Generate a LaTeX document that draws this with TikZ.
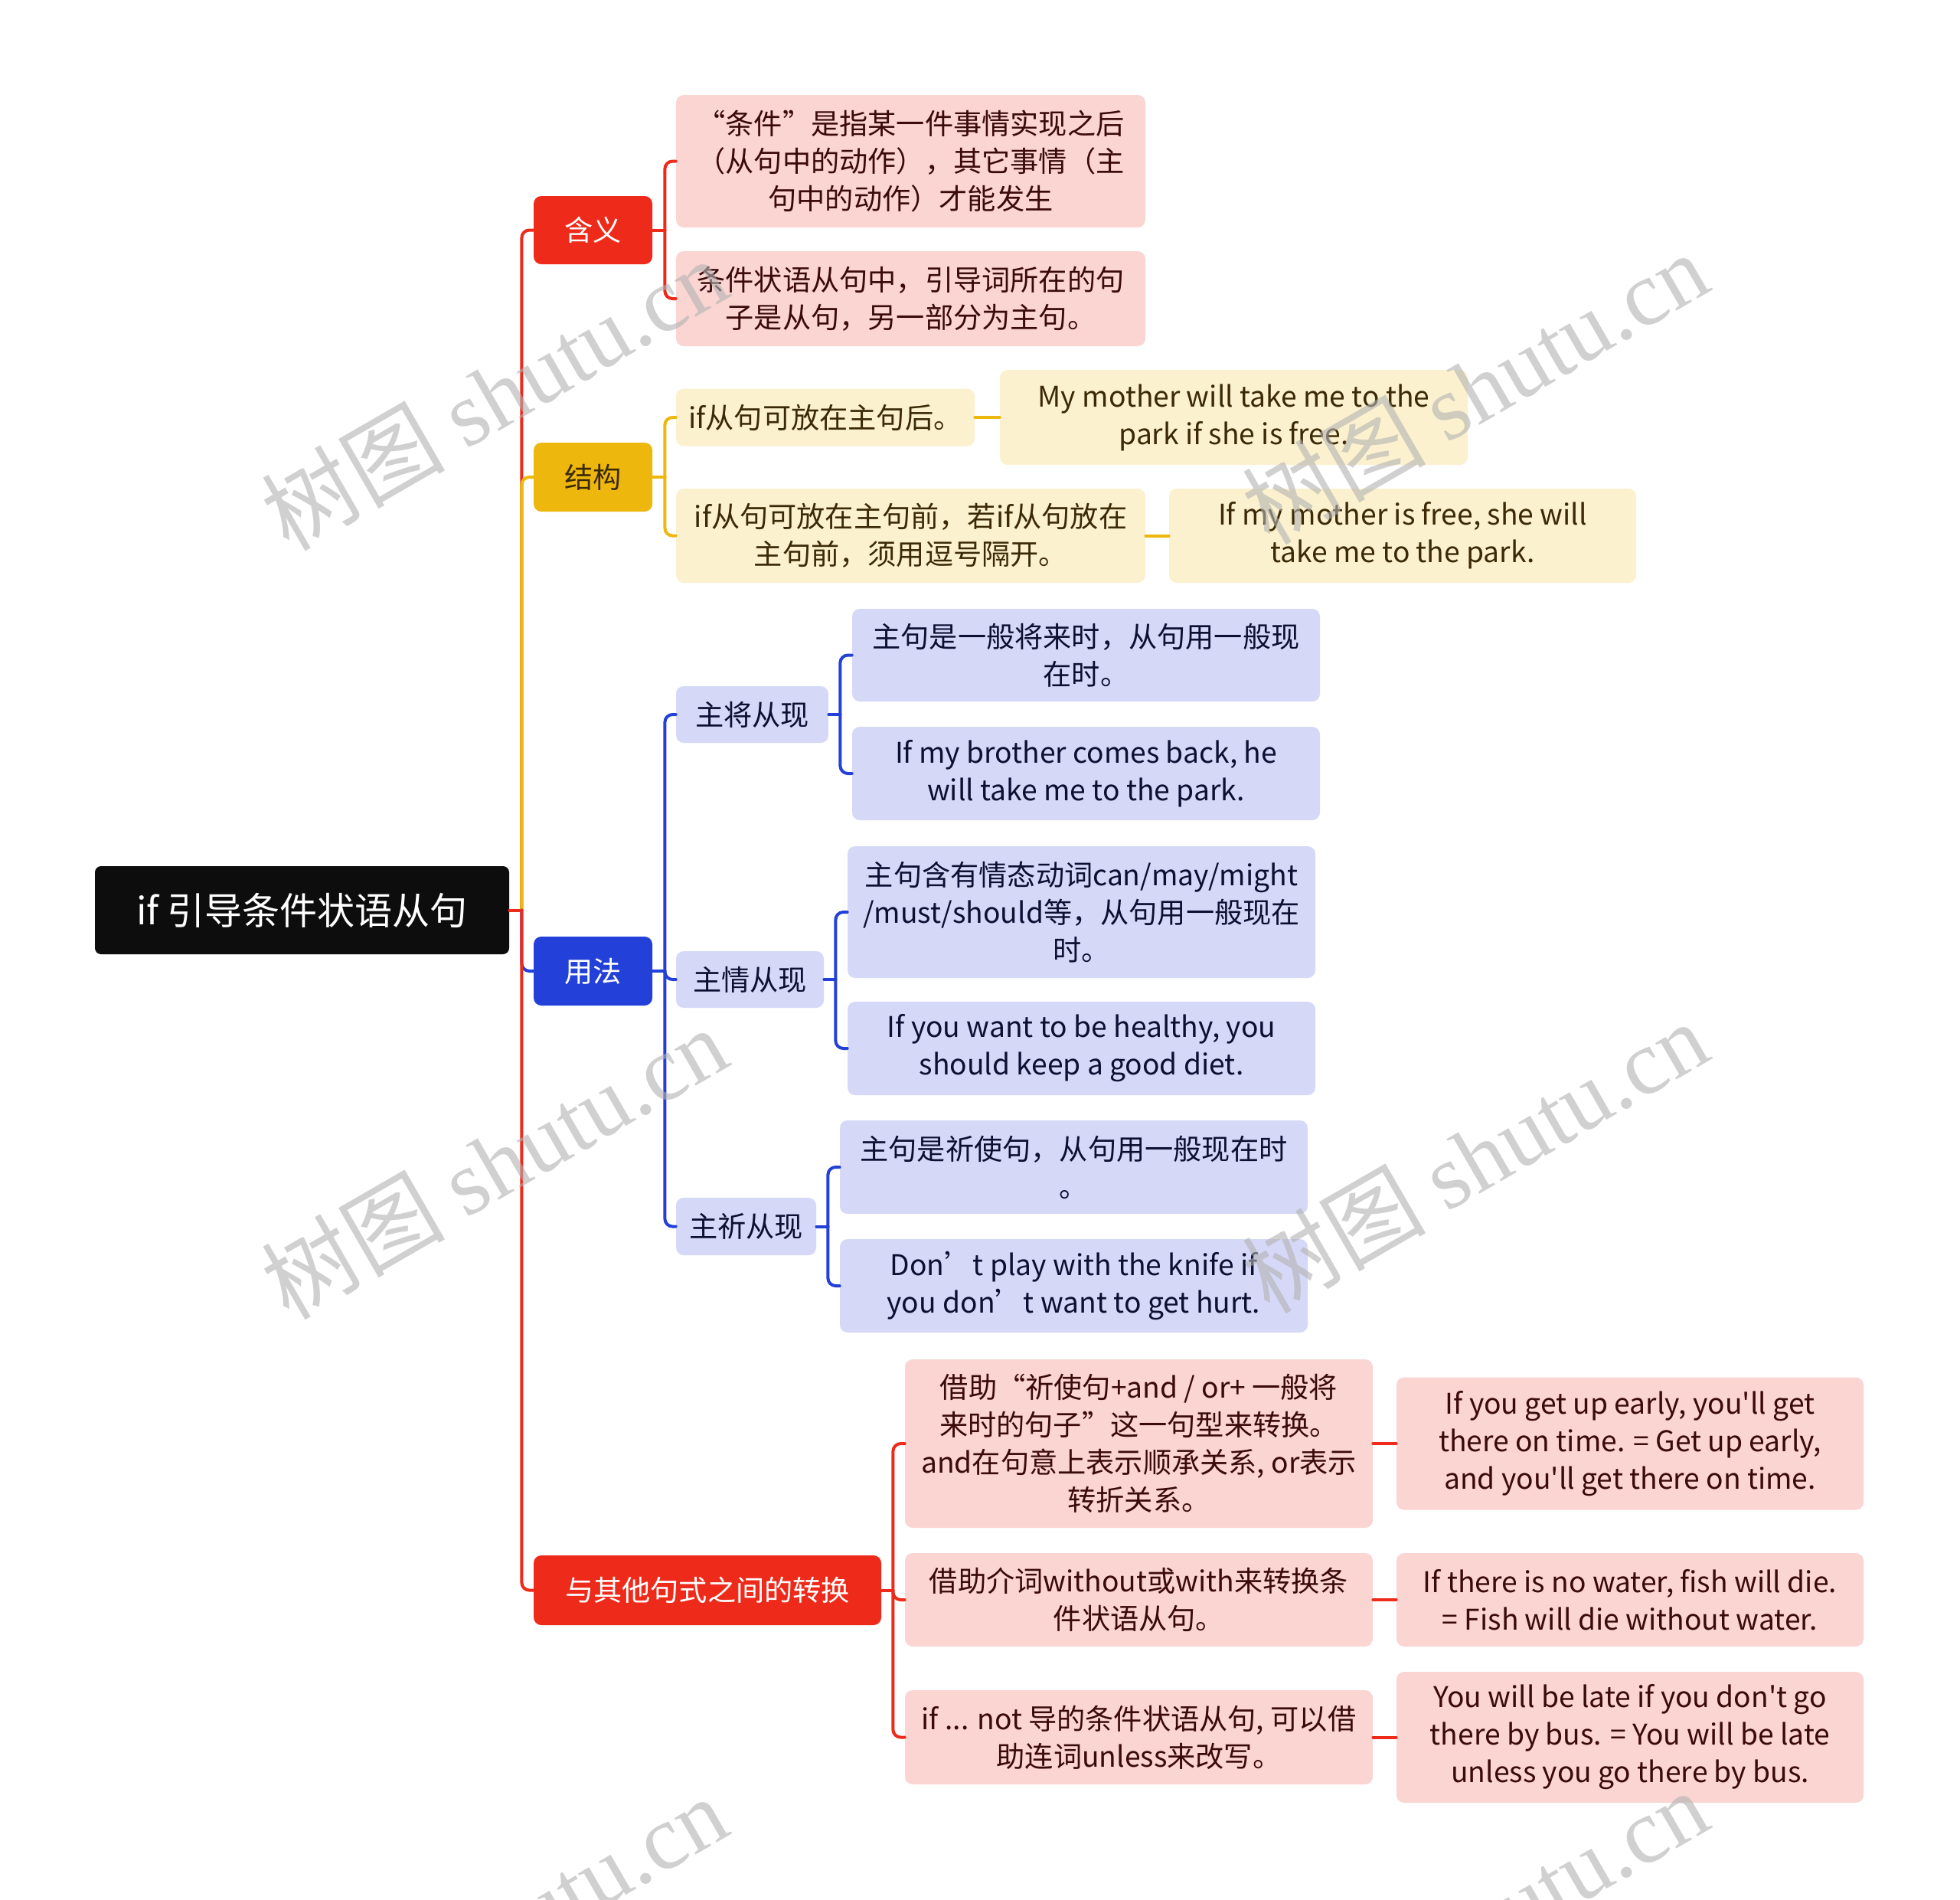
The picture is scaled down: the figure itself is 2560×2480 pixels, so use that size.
\documentclass[tikz,border=0pt]{standalone}
\usepackage{fontspec}
\setmainfont{Noto Sans CJK SC}[Ligatures=TeXOff]
\newfontfamily\wmserif{Liberation Serif}

\definecolor{mapBlack}{RGB}{13,13,13}
\definecolor{mapRed}{RGB}{238,42,26}
\definecolor{mapYellow}{RGB}{237,183,14}
\definecolor{mapBlue}{RGB}{35,64,216}
\definecolor{lightRed}{RGB}{250,213,210}
\definecolor{lightYellow}{RGB}{252,241,207}
\definecolor{lightBlue}{RGB}{213,217,247}
\definecolor{txtRed}{RGB}{59,10,10}
\definecolor{txtYellow}{RGB}{59,42,5}
\definecolor{txtBlue}{RGB}{13,16,51}

\tikzset{
  mapnode/.style={rounded corners=5pt, inner sep=0pt, align=center,
    font=\fontsize{18.6}{24.5}\selectfont},
  sz/.style 2 args={minimum width=#1*0.5pt, minimum height=#2*0.5pt},
  rootnode/.style={mapnode, fill=mapBlack, text=white, rounded corners=4pt,
    font=\fontsize{24.5}{30}\selectfont},
  topicRed/.style={mapnode, fill=mapRed, text=white},
  topicYellow/.style={mapnode, fill=mapYellow, text=txtYellow},
  topicBlue/.style={mapnode, fill=mapBlue, text=white},
  leafRed/.style={mapnode, fill=lightRed, text=txtRed},
  leafYellow/.style={mapnode, fill=lightYellow, text=txtYellow},
  leafBlue/.style={mapnode, fill=lightBlue, text=txtBlue},
  maplink/.style={line width=2pt, line cap=round},
  mapfork/.style={maplink, rounded corners=5pt},
  watermark/.style={rotate=30, text=gray!60, text opacity=0.6,
    font=\fontsize{60}{60}\selectfont},
}

\begin{document}
\begin{tikzpicture}[x=0.5pt, y=-0.5pt]
% sheet is 2560 x 2480 px, one unit = one px
\useasboundingbox (0,0) rectangle (2560,2480);
\fill[white] (0,0) rectangle (2560,2480);

% Root and main topics
\node[rootnode, sz={541}{115}] (root) at (394.5,1188.5) {if 引导条件状语从句};
\node[topicRed, sz={155}{89}] (hanyi) at (774.5,300.5) {含义};
\node[topicYellow, sz={155}{90}] (jiegou) at (774.5,623) {结构};
\node[topicBlue, sz={155}{90}] (yongfa) at (774.5,1268) {用法};
\node[topicRed, sz={454}{91}] (zhuanhuan) at (924,2076.5) {与其他句式之间的转换};

% 含义
\node[leafRed, sz={613}{173}] (hanyiA) at (1189.5,210.5)
  {“条件”是指某一件事情实现之后\\（从句中的动作），其它事情（主\\句中的动作）才能发生};
\node[leafRed, sz={613}{124}] (hanyiB) at (1189.5,390)
  {条件状语从句中，引导词所在的句\\子是从句，另一部分为主句。};

% 结构
\node[leafYellow, sz={390}{75}] (jiegouA) at (1078,545) {if从句可放在主句后。};
\node[leafYellow, sz={611}{124}] (jiegouAx) at (1611.5,545)
  {My mother will take me to the\\park if she is free.};
\node[leafYellow, sz={613}{123}] (jiegouB) at (1189.5,699.5)
  {if从句可放在主句前，若if从句放在\\主句前，须用逗号隔开。};
\node[leafYellow, sz={610}{123}] (jiegouBx) at (1832,699.5)
  {If my mother is free, she will\\take me to the park.};

% 用法
\node[leafBlue, sz={199}{74}] (zhujiang) at (982.5,933) {主将从现};
\node[leafBlue, sz={611}{121}] (zhujiangA) at (1418.5,855.5)
  {主句是一般将来时，从句用一般现\\在时。};
\node[leafBlue, sz={611}{122}] (zhujiangB) at (1418.5,1010)
  {If my brother comes back, he\\will take me to the park.};
\node[leafBlue, sz={193}{74}] (zhuqing) at (979.5,1279) {主情从现};
\node[leafBlue, sz={611}{172}] (zhuqingA) at (1412.5,1191)
  {主句含有情态动词can/may/might\\/must/should等，从句用一般现在\\时。};
\node[leafBlue, sz={611}{122}] (zhuqingB) at (1412.5,1369)
  {If you want to be healthy, you\\should keep a good diet.};
\node[leafBlue, sz={183}{75}] (zhuqi) at (974.5,1601.5) {主祈从现};
\node[leafBlue, sz={611}{122}] (zhuqiA) at (1402.5,1524)
  {主句是祈使句，从句用一般现在时\\。};
\node[leafBlue, sz={611}{122}] (zhuqiB) at (1402.5,1679)
  {Don’t play with the knife if\\you don’t want to get hurt.};

% 转换
\node[leafRed, sz={611}{220}] (zhuanA) at (1487.5,1885)
  {借助“祈使句+and / or+ 一般将\\来时的句子”这一句型来转换。\\and在句意上表示顺承关系, or表示\\转折关系。};
\node[leafRed, sz={610}{173}] (zhuanAx) at (2129,1885)
  {If you get up early, you'll get\\there on time. = Get up early,\\and you'll get there on time.};
\node[leafRed, sz={611}{122}] (zhuanB) at (1487.5,2089)
  {借助介词without或with来转换条\\件状语从句。};
\node[leafRed, sz={610}{122}] (zhuanBx) at (2129,2089)
  {If there is no water, fish will die.\\= Fish will die without water.};
\node[leafRed, sz={611}{123}] (zhuanC) at (1487.5,2268.5)
  {if ... not 导的条件状语从句, 可以借\\助连词unless来改写。};
\node[leafRed, sz={610}{171}] (zhuanCx) at (2129,2268.5)
  {You will be late if you don't go\\there by bus. = You will be late\\unless you go there by bus.};

% Forks from root
\coordinate (rootJ) at ([xshift=8pt]root.east);
\draw[maplink, mapRed] (root.east) -- (rootJ);
\draw[mapfork, mapRed] (rootJ) |- (hanyi.west);
\draw[mapfork, mapYellow] (rootJ) |- (jiegou.west);
\draw[mapfork, mapBlue] (rootJ) |- (yongfa.west);
\draw[mapfork, mapRed] (rootJ) |- (zhuanhuan.west);

% Forks from topics
\coordinate (hanyiJ) at ([xshift=8pt]hanyi.east);
\draw[maplink, mapRed] (hanyi.east) -- (hanyiJ);
\foreach \c in {hanyiA,hanyiB} \draw[mapfork, mapRed] (hanyiJ) |- (\c.west);

\coordinate (jiegouJ) at ([xshift=8pt]jiegou.east);
\draw[maplink, mapYellow] (jiegou.east) -- (jiegouJ);
\foreach \c in {jiegouA,jiegouB} \draw[mapfork, mapYellow] (jiegouJ) |- (\c.west);
\draw[maplink, mapYellow] (jiegouA.east) -- (jiegouAx.west);
\draw[maplink, mapYellow] (jiegouB.east) -- (jiegouBx.west);

\coordinate (yongfaJ) at ([xshift=8pt]yongfa.east);
\draw[maplink, mapBlue] (yongfa.east) -- (yongfaJ);
\foreach \c in {zhujiang,zhuqing,zhuqi} \draw[mapfork, mapBlue] (yongfaJ) |- (\c.west);
\foreach \p in {zhujiang,zhuqing,zhuqi} {
  \coordinate (\p J) at ([xshift=7.5pt]\p.east);
  \draw[maplink, mapBlue] (\p.east) -- (\p J);
  \draw[mapfork, mapBlue] (\p J) |- (\p A.west);
  \draw[mapfork, mapBlue] (\p J) |- (\p B.west);
}

\coordinate (zhuanJ) at ([xshift=7.5pt]zhuanhuan.east);
\draw[maplink, mapRed] (zhuanhuan.east) -- (zhuanJ);
\foreach \c in {zhuanA,zhuanB,zhuanC} {
  \draw[mapfork, mapRed] (zhuanJ) |- (\c.west);
  \draw[maplink, mapRed] (\c.east) -- (\c x.west);
}

% Watermark
\begin{scope}
  \clip (0,0) rectangle (2560,2480);
  \foreach \wx/\wy [count=\i] in {645/514,1926/506,645/1518,1926/1510,645/2522,1926/2514}
    \node[watermark] (wm\i) at (\wx,\wy) {树图 {\wmserif shutu.cn}};
\end{scope}
\end{tikzpicture}
\end{document}
